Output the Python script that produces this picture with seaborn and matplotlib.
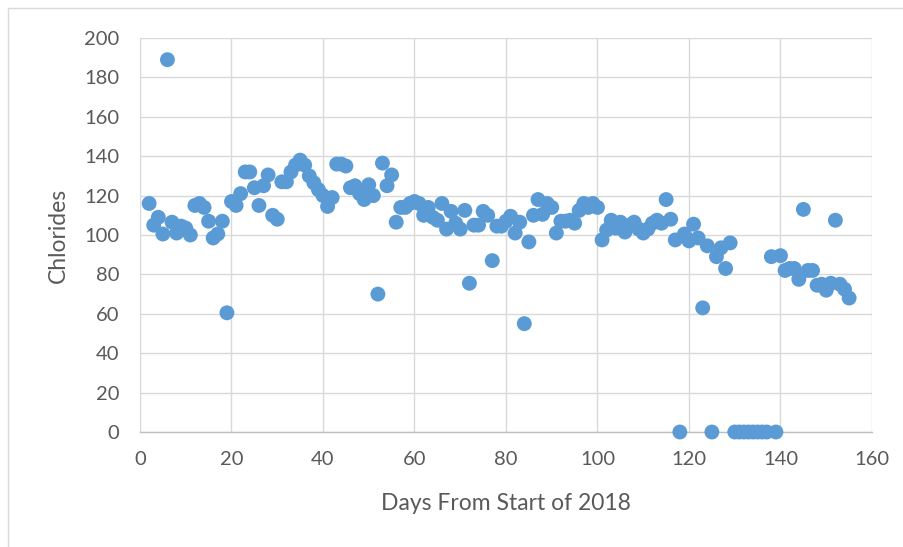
import matplotlib
matplotlib.use("Agg")
import matplotlib.pyplot as plt
import seaborn as sns
import pandas as pd
from matplotlib.patches import Rectangle

days = [2, 3, 4, 5, 6, 7, 8, 9, 10, 11, 12, 13, 14, 15, 16, 17, 18, 19, 20, 21,
        22, 23, 24, 25, 26, 27, 28, 29, 30, 31, 32, 33, 34, 35, 36, 37, 38, 39, 40, 41,
        42, 43, 44, 45, 46, 47, 48, 49, 50, 51, 52, 53, 54, 55, 56, 57, 58, 59, 60, 61,
        62, 63, 64, 65, 66, 67, 68, 69, 70, 71, 72, 73, 74, 75, 76, 77, 78, 79, 80, 81,
        82, 83, 84, 85, 86, 87, 88, 89, 90, 91, 92, 93, 94, 95, 96, 97, 98, 99, 100, 101,
        102, 103, 104, 105, 106, 107, 108, 109, 110, 111, 112, 113, 114, 115, 116, 117, 118, 119, 120, 121,
        122, 123, 124, 125, 126, 127, 128, 129, 130, 131, 132, 133, 134, 135, 136, 137, 138, 139, 140, 141,
        142, 143, 144, 145, 146, 147, 148, 149, 150, 151, 152, 153, 154, 155]
chlorides = [116, 105, 109, 100.5, 189, 106.5, 101, 104.5, 103.5, 100, 115, 116, 114, 107, 98.5, 100.5, 107, 60.5, 117, 115,
             121, 132, 132, 124, 115, 125, 130.5, 110, 108, 127, 127, 132, 135.5, 138, 135.5, 130, 126.5, 123, 120, 114.5,
             119, 136, 136, 135, 124, 125, 121, 118, 125.5, 120, 70, 136.5, 125, 130.5, 106.5, 114, 114, 116, 117, 116,
             110, 114, 109, 107.5, 116, 103, 112, 106, 103, 112.5, 75.5, 105, 105, 112, 110, 87, 104.5, 104.5, 107, 109.5,
             101, 106.5, 55, 96.5, 110, 118, 110.5, 116, 114, 101, 107, 107, 107.5, 106, 112.5, 116, 114, 116, 114, 97.5,
             102.5, 107.5, 103.5, 106.5, 101.5, 105, 106.5, 103, 101, 103, 106, 107.5, 106, 118, 108, 97.5, 0, 100.5, 97, 105.5,
             98.5, 63, 94.5, 0, 89, 93.5, 83, 96, 0, 0, 0, 0, 0, 0, 0, 0, 89, 0, 89.5, 82,
             83, 83, 77.5, 113, 82, 82, 74.5, 75, 72, 75.5, 107.5, 75, 72.5, 68]

x_ticks = [0, 20, 40, 60, 80, 100, 120, 140, 160]
y_ticks = [0, 20, 40, 60, 80, 100, 120, 140, 160, 180, 200]
x_label = "Days From Start of 2018"
y_label = "Chlorides"

df = pd.DataFrame({"day": days, "chlorides": chlorides})

sns.set_style("white")
plt.rcParams["font.family"] = ["Lato", "DejaVu Sans"]

W, H = 904, 547
fig = plt.figure(figsize=(W / 100, H / 100), dpi=100)
ax = fig.add_axes([140 / W, 1 - 432 / H, (872 - 140) / W, (432 - 38) / H])

sns.scatterplot(data=df, x="day", y="chlorides", ax=ax, color="#5B9BD5",
                s=115, edgecolor="none", linewidth=0, zorder=3, clip_on=False)

ax.set_xlim(0, 160)
ax.set_ylim(0, 200)
ax.set_xticks(x_ticks)
ax.set_yticks(y_ticks)
ax.grid(True, color="#D9D9D9", linewidth=1.0, zorder=0)
ax.set_axisbelow(True)
for side in ["top", "right", "left"]:
    ax.spines[side].set_visible(False)
ax.spines["bottom"].set_color("#BFBFBF")
ax.spines["bottom"].set_linewidth(1.0)
ax.tick_params(axis="both", length=0, labelsize=14.5, labelcolor="#595959")
ax.tick_params(axis="y", pad=15)
ax.tick_params(axis="x", pad=14)
ax.set_xlabel(x_label, fontsize=16.5, color="#595959", labelpad=18)
ax.set_ylabel(y_label, fontsize=16.5, color="#595959", labelpad=11)

fig.patches.append(Rectangle((8 / W, -0.01), 1.2, 1 - 8 / H + 0.01, transform=fig.transFigure,
                             fill=False, edgecolor="#D9D9D9", linewidth=1.0))

fig.savefig("out.png", dpi=100, facecolor="white")
